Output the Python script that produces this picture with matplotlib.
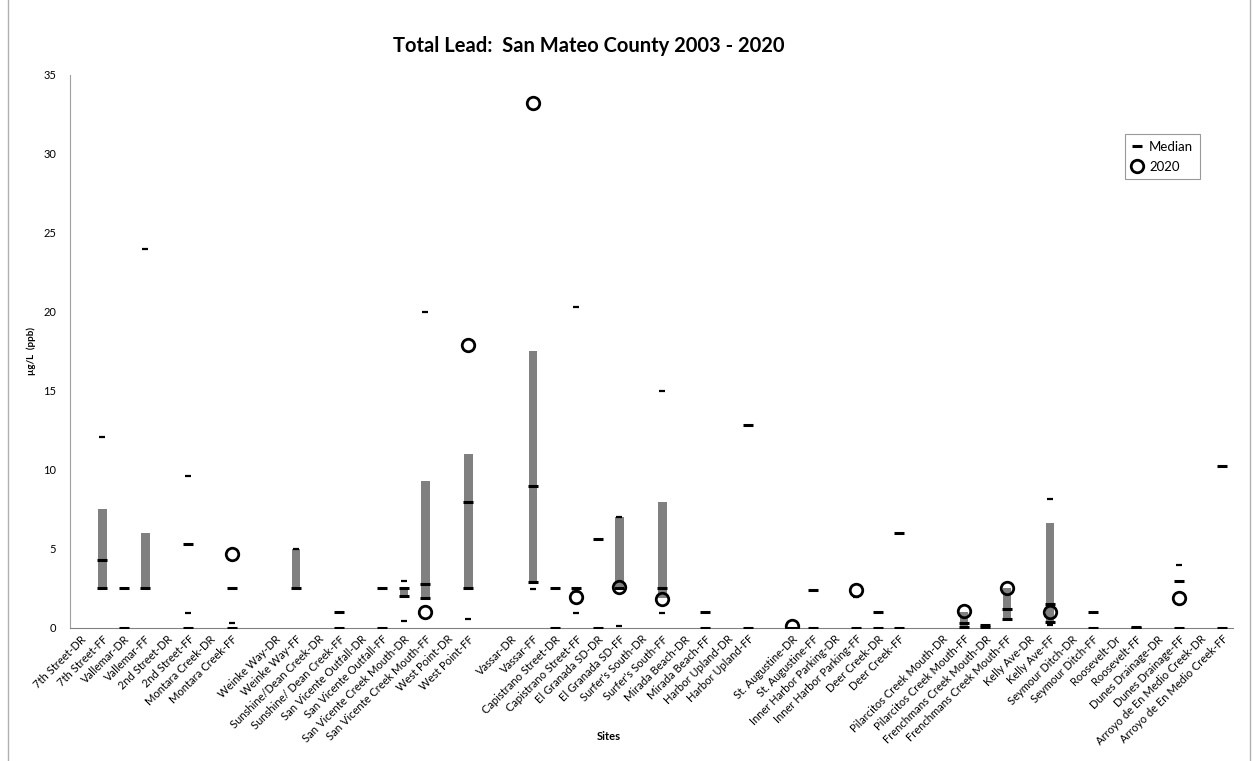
import numpy as np
import matplotlib
matplotlib.use("Agg")
import matplotlib.pyplot as plt

nan = np.nan

sites = ["7th Street-DR", "7th Street-FF", "Vallemar-DR", "Vallemar-FF",
         "2nd Street-DR", "2nd Street-FF", "Montara Creek-DR", "Montara Creek-FF", "",
         "Weinke Way-DR", "Weinke Way-FF", "Sunshine/Dean Creek-DR", "Sunshine/ Dean Creek-FF",
         "San Vicente Outfall-DR", "San Vicente Outfall-FF", "San Vicente Creek Mouth-DR",
         "San Vicente Creek Mouth-FF", "West Point-DR", "West Point-FF", "",
         "Vassar-DR", "Vassar-FF", "Capistrano Street-DR", "Capistrano Street-FF",
         "El Granada SD-DR", "El Granada SD-FF", "Surfer's South-DR", "Surfer's South-FF",
         "Mirada Beach-DR", "Mirada Beach-FF", "Harbor Upland-DR", "Harbor Upland-FF", "",
         "St. Augustine-DR", "St. Augustine-FF", "Inner Harbor Parking-DR", "Inner Harbor Parking-FF",
         "Deer Creek-DR", "Deer Creek-FF", "",
         "Pilarcitos Creek Mouth-DR", "Pilarcitos Creek Mouth-FF", "Frenchmans Creek Mouth-DR",
         "Frenchmans Creek Mouth-FF", "Kelly Ave-DR", "Kelly Ave-FF", "Seymour Ditch-DR",
         "Seymour Ditch-FF", "Roosevelt-Dr", "Roosevelt-FF", "Dunes Drainage-DR",
         "Dunes Drainage-FF", "Arroyo de En Medio Creek-DR", "Arroyo de En Medio Creek-FF"]

# bar bottom / top (25th - 75th percentile)
q1 = [nan, 2.5, nan, 2.5, nan, nan, nan, nan, nan,
      nan, 2.5, nan, nan, nan, nan, 2.0, 1.87, nan, 2.5, nan,
      nan, 2.89, nan, 2.2, nan, 2.5, nan, 1.9, nan, nan, nan, nan, nan,
      nan, nan, nan, nan, nan, nan, nan,
      nan, 0.05, nan, 0.59, nan, 0.4, nan, nan, nan, nan, nan, nan, nan, nan]
q3 = [nan, 7.5, nan, 6.0, nan, nan, nan, nan, nan,
      nan, 5.0, nan, nan, nan, nan, 2.5, 9.29, nan, 11.0, nan,
      nan, 17.5, nan, 2.6, nan, 7.0, nan, 7.95, nan, nan, nan, nan, nan,
      nan, nan, nan, nan, nan, nan, nan,
      nan, 1.0, nan, 2.5, nan, 6.65, nan, nan, nan, nan, nan, nan, nan, nan]
median = [nan, 4.28, 2.5, 2.5, nan, 5.33, nan, 2.5, nan,
          nan, 2.5, nan, 0.99, nan, 2.5, 2.5, 2.78, nan, 8.0, nan,
          nan, 9.0, 2.5, 2.5, 5.6, 2.5, nan, 2.5, nan, 0.99, nan, 12.84, nan,
          nan, 2.42, nan, nan, 0.99, 6.02, nan,
          nan, 0.3, 0.21, 1.2, nan, 1.54, nan, 0.99, nan, 0.05, nan, 2.97, nan, 10.23]
minv = [nan, 2.5, 0, nan, nan, 0, nan, 0, nan,
        nan, nan, nan, 0, nan, 0, 2.0, 1.87, nan, 2.5, nan,
        nan, 2.89, 0, nan, 0, nan, nan, nan, nan, 0, nan, 0, nan,
        0, 0, nan, 0, 0, 0, nan,
        nan, 0.08, 0.05, 0.59, nan, 0.4, nan, 0, nan, 0, nan, 0, nan, 0]
maxv = [nan, 12.1, nan, 24.0, nan, 9.62, nan, nan, nan,
        nan, 5.0, nan, nan, nan, nan, 2.97, 20.0, nan, nan, nan,
        nan, nan, nan, 20.3, nan, 7.0, nan, 15.0, nan, nan, nan, nan, nan,
        nan, nan, nan, nan, nan, nan, nan,
        nan, nan, nan, nan, nan, 8.17, nan, nan, nan, nan, nan, 3.98, nan, nan]
lowv = [nan, nan, nan, nan, nan, 0.97, nan, 0.3, nan,
        nan, nan, nan, nan, nan, nan, 0.44, nan, nan, 0.57, nan,
        nan, 2.46, nan, 0.97, nan, 0.1, nan, 0.97, nan, nan, nan, nan, nan,
        nan, nan, nan, 1.94, nan, nan, nan,
        nan, nan, nan, nan, nan, 0.17, nan, nan, nan, nan, nan, nan, nan, nan]
y2020 = [nan, nan, nan, nan, nan, nan, nan, 4.7, nan,
         nan, nan, nan, nan, nan, nan, nan, 1.03, nan, 17.9, nan,
         nan, 33.2, nan, 1.98, nan, 2.61, nan, 1.85, nan, nan, nan, nan, nan,
         0.12, nan, nan, 2.4, nan, nan, nan,
         nan, 1.05, nan, 2.55, nan, 1.03, nan, nan, nan, nan, nan, 1.87, nan, nan]

plt.rcParams['font.family'] = ['Lato', 'DejaVu Sans']

fig = plt.figure(figsize=(12.55, 7.61), dpi=100)
ax = fig.add_axes([0.0558, 0.1748, 0.9267, 0.7267])

x = np.arange(len(sites))
q1a = np.array(q1)
q3a = np.array(q3)
m = ~np.isnan(q1a)
ax.bar(x[m], q3a[m] - q1a[m], bottom=q1a[m], width=0.4, color='#808080', zorder=2)

ax.plot(x, minv, linestyle='none', marker='_', markersize=7, mew=2.2, color='black', zorder=3)
ax.plot(x, maxv, linestyle='none', marker='_', markersize=4, mew=1.6, color='black', zorder=3)
ax.plot(x, lowv, linestyle='none', marker='_', markersize=4, mew=1.6, color='black', zorder=3)
ax.plot(x, median, linestyle='none', marker='_', markersize=7, mew=2.2, color='black',
        zorder=4, label='Median')
ax.plot(x, y2020, linestyle='none', marker='o', markersize=9, mew=2, mfc='none',
        mec='black', zorder=5, label='2020')

ax.set_xlim(-0.5, len(sites) - 0.5)
ax.set_ylim(0, 35)
ax.set_yticks(np.arange(0, 36, 5))
ax.tick_params(axis='y', length=0, labelsize=8, pad=10)
ax.set_xticks(x)
ax.set_xticklabels(sites, rotation=45, ha='right', rotation_mode='anchor', fontsize=8)
ax.tick_params(axis='x', length=0, pad=4)

for s in ['top', 'right']:
    ax.spines[s].set_visible(False)
ax.spines['left'].set_color('#a0a0a0')
ax.spines['bottom'].set_color('#808080')

ax.set_ylabel('µg/L  (ppb)', fontsize=7, fontweight='bold', labelpad=5)
fig.text(0.485, 0.032, 'Sites', ha='center', va='center', fontsize=8, fontweight='bold')
fig.text(0.469, 0.94, 'Total Lead:  San Mateo County 2003 - 2020', ha='center', va='center',
         fontsize=14.5, fontweight='bold')

leg = ax.legend(loc='upper right', bbox_to_anchor=(0.977, 0.905), fontsize=9.5, frameon=True,
                fancybox=False, edgecolor='#808080', handlelength=0.8, handletextpad=0.5,
                borderpad=0.5, labelspacing=0.6)
leg.get_frame().set_linewidth(0.8)

fig.patches.append(plt.Rectangle((0.006, -0.01), 0.99, 1.02, transform=fig.transFigure,
                                 fill=False, edgecolor='#b0b0b0', linewidth=1))

fig.savefig('out.png', dpi=100)
